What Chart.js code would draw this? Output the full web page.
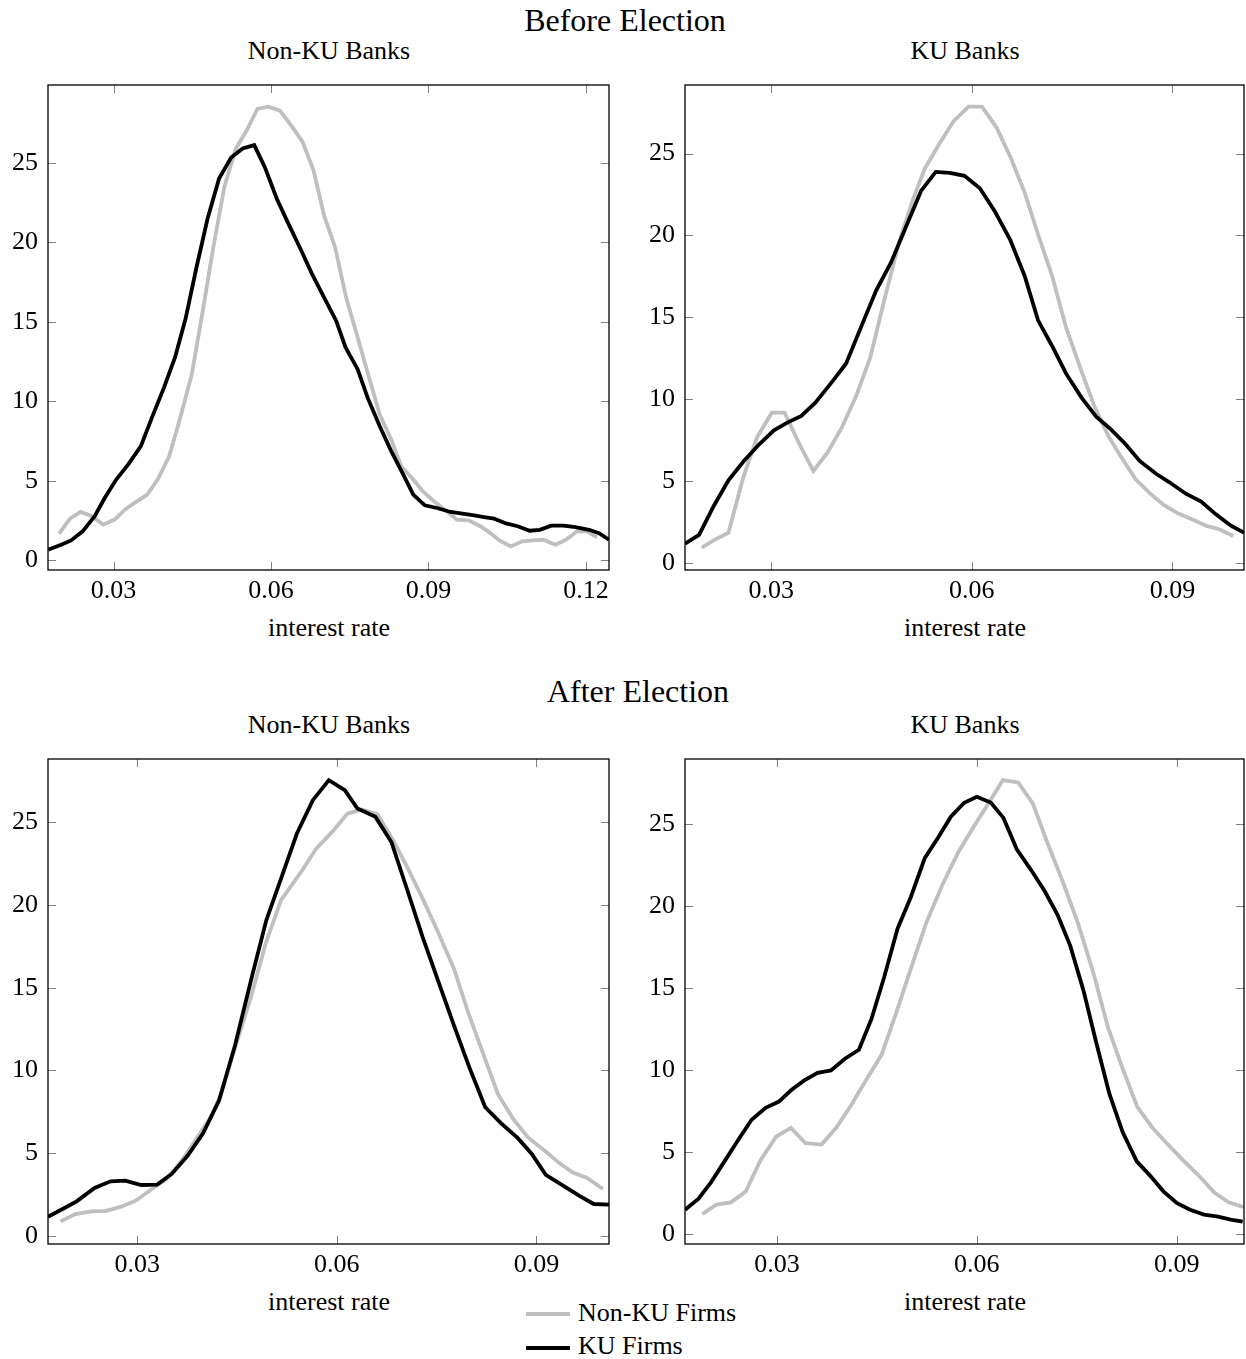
<!DOCTYPE html>
<html>
<head>
<meta charset="utf-8">
<script src="https://cdn.jsdelivr.net/npm/chart.js@4.4.1/dist/chart.umd.min.js"></script>
<style>
  body { margin: 0; background: #fff; font-family: "Liberation Serif", serif; }
  #page { position: relative; width: 1246px; height: 1359px; overflow: hidden; }
  .txt { position: absolute; white-space: nowrap; transform: translate(-50%, -50%); color: #000; }
  .box { position: absolute; }
  .swatch { position: absolute; height: 4px; width: 44px; }
</style>
</head>
<body>
<div id="page">
  <div class="txt" style="left:625px; top:20px; font-size:32px">Before Election</div>
  <div class="txt" style="left:329px; top:51px; font-size:26px">Non-KU Banks</div>
  <div class="txt" style="left:965px; top:51px; font-size:26px">KU Banks</div>
  <div class="txt" style="left:329px; top:628px; font-size:26px">interest rate</div>
  <div class="txt" style="left:965px; top:628px; font-size:26px">interest rate</div>

  <div class="txt" style="left:638px; top:691px; font-size:32px">After Election</div>
  <div class="txt" style="left:329px; top:725px; font-size:26px">Non-KU Banks</div>
  <div class="txt" style="left:965px; top:725px; font-size:26px">KU Banks</div>
  <div class="txt" style="left:329px; top:1302px; font-size:26px">interest rate</div>
  <div class="txt" style="left:965px; top:1302px; font-size:26px">interest rate</div>

  <div class="swatch" style="left:526px; top:1312px; background:#bfbfbf"></div>
  <div class="txt" style="left:578px; top:1313px; font-size:26px; transform:translate(0,-50%)">Non-KU Firms</div>
  <div class="swatch" style="left:526px; top:1346px; background:#000"></div>
  <div class="txt" style="left:578px; top:1346px; font-size:26px; transform:translate(0,-50%)">KU Firms</div>

  <div class="box" style="left:0px; top:75px; width:620px; height:535px"><canvas id="c1"></canvas></div>
  <div class="box" style="left:637px; top:75px; width:609px; height:535px"><canvas id="c2"></canvas></div>
  <div class="box" style="left:0px; top:749px; width:620px; height:535px"><canvas id="c3"></canvas></div>
  <div class="box" style="left:637px; top:749px; width:609px; height:535px"><canvas id="c4"></canvas></div>
</div>

<script>
// tick labels
const yTicks = [0, 5, 10, 15, 20, 25];
const xTicksWide = [0.03, 0.06, 0.09, 0.12];
const xTicks = [0.03, 0.06, 0.09];

// Before election, non-KU banks
const preNonKuBlackX = [0.0175, 0.0200, 0.0219, 0.0241, 0.0264, 0.0283, 0.0305, 0.0328, 0.0352, 0.0373, 0.0396, 0.0417, 0.0437, 0.0458, 0.0479, 0.0501, 0.0524, 0.0546, 0.0568, 0.0588, 0.0611, 0.0633, 0.0656, 0.0678, 0.0701, 0.0724, 0.0742, 0.0765, 0.0784, 0.0807, 0.0829, 0.0852, 0.0871, 0.0893, 0.0916, 0.0942, 0.0965, 0.0987, 0.1006, 0.1025, 0.1048, 0.1070, 0.1093, 0.1112, 0.1134, 0.1157, 0.1180, 0.1206, 0.1225, 0.1244];
const preNonKuBlackY = [0.67, 0.99, 1.26, 1.83, 2.78, 3.93, 5.09, 6.04, 7.19, 8.98, 10.87, 12.77, 15.18, 18.44, 21.49, 24.02, 25.34, 25.91, 26.12, 24.75, 22.75, 21.18, 19.60, 18.02, 16.55, 15.08, 13.40, 12.03, 10.24, 8.45, 6.88, 5.40, 4.14, 3.47, 3.30, 3.05, 2.94, 2.84, 2.73, 2.63, 2.33, 2.15, 1.87, 1.93, 2.19, 2.19, 2.10, 1.93, 1.72, 1.30];
const preNonKuGrayX = [0.0196, 0.0217, 0.0237, 0.0259, 0.0280, 0.0302, 0.0323, 0.0343, 0.0364, 0.0384, 0.0406, 0.0427, 0.0449, 0.0470, 0.0490, 0.0511, 0.0533, 0.0554, 0.0574, 0.0595, 0.0617, 0.0638, 0.0660, 0.0681, 0.0701, 0.0722, 0.0743, 0.0765, 0.0785, 0.0807, 0.0829, 0.0848, 0.0871, 0.0889, 0.0912, 0.0935, 0.0954, 0.0976, 0.0999, 0.1018, 0.1036, 0.1057, 0.1078, 0.1099, 0.1119, 0.1142, 0.1162, 0.1183, 0.1202, 0.1221];
const preNonKuGrayY = [1.68, 2.63, 3.05, 2.78, 2.25, 2.57, 3.24, 3.68, 4.14, 5.09, 6.56, 8.98, 11.71, 15.71, 19.70, 23.49, 25.91, 27.07, 28.39, 28.54, 28.29, 27.38, 26.33, 24.54, 21.70, 19.70, 16.55, 14.03, 11.71, 9.19, 7.61, 5.93, 5.09, 4.35, 3.68, 3.09, 2.57, 2.52, 2.15, 1.72, 1.24, 0.88, 1.20, 1.26, 1.30, 0.99, 1.30, 1.83, 1.83, 1.45];

// Before election, KU banks
const preKuBlackX = [0.0171, 0.0192, 0.0214, 0.0236, 0.0259, 0.0282, 0.0304, 0.0324, 0.0345, 0.0366, 0.0390, 0.0412, 0.0435, 0.0457, 0.0479, 0.0502, 0.0524, 0.0546, 0.0567, 0.0589, 0.0612, 0.0634, 0.0657, 0.0679, 0.0699, 0.0720, 0.0741, 0.0764, 0.0786, 0.0808, 0.0830, 0.0851, 0.0875, 0.0896, 0.0920, 0.0943, 0.0965, 0.0988, 0.1007];
const preKuBlackY = [1.18, 1.71, 3.48, 5.05, 6.23, 7.25, 8.10, 8.57, 8.98, 9.79, 11.01, 12.18, 14.48, 16.65, 18.34, 20.58, 22.72, 23.88, 23.82, 23.64, 22.88, 21.50, 19.77, 17.53, 14.82, 13.25, 11.56, 10.10, 8.94, 8.16, 7.25, 6.23, 5.46, 4.91, 4.23, 3.75, 2.97, 2.26, 1.85];
const preKuGrayX = [0.0196, 0.0217, 0.0236, 0.0258, 0.0279, 0.0301, 0.0320, 0.0341, 0.0363, 0.0384, 0.0405, 0.0427, 0.0448, 0.0470, 0.0491, 0.0512, 0.0530, 0.0551, 0.0573, 0.0595, 0.0615, 0.0637, 0.0658, 0.0679, 0.0699, 0.0720, 0.0741, 0.0762, 0.0784, 0.0804, 0.0824, 0.0845, 0.0866, 0.0887, 0.0908, 0.0929, 0.0951, 0.0970, 0.0991];
const preKuGrayY = [0.94, 1.45, 1.85, 5.21, 7.70, 9.18, 9.18, 7.35, 5.62, 6.74, 8.23, 10.20, 12.54, 16.21, 19.57, 22.21, 24.11, 25.57, 27.00, 27.87, 27.87, 26.59, 24.76, 22.62, 20.07, 17.53, 14.37, 11.93, 9.49, 7.76, 6.43, 5.11, 4.26, 3.54, 3.03, 2.67, 2.26, 2.06, 1.65];

// After election, non-KU banks
const postNonKuBlackX = [0.0166, 0.0188, 0.0209, 0.0236, 0.0260, 0.0282, 0.0306, 0.0330, 0.0352, 0.0376, 0.0399, 0.0423, 0.0447, 0.0471, 0.0494, 0.0518, 0.0540, 0.0564, 0.0588, 0.0612, 0.0631, 0.0658, 0.0682, 0.0706, 0.0729, 0.0752, 0.0776, 0.0799, 0.0823, 0.0847, 0.0872, 0.0893, 0.0914, 0.0940, 0.0964, 0.0986, 0.1009];
const postNonKuBlackY = [1.15, 1.62, 2.08, 2.89, 3.29, 3.33, 3.07, 3.09, 3.74, 4.85, 6.20, 8.18, 11.51, 15.45, 19.08, 21.81, 24.33, 26.35, 27.56, 26.95, 25.84, 25.34, 23.82, 20.90, 18.07, 15.45, 12.72, 10.20, 7.77, 6.80, 5.90, 4.95, 3.69, 3.03, 2.42, 1.92, 1.88];
const postNonKuGrayX = [0.0185, 0.0207, 0.0231, 0.0254, 0.0276, 0.0298, 0.0322, 0.0344, 0.0367, 0.0389, 0.0411, 0.0426, 0.0449, 0.0471, 0.0493, 0.0516, 0.0548, 0.0569, 0.0593, 0.0616, 0.0637, 0.0661, 0.0683, 0.0707, 0.0729, 0.0752, 0.0776, 0.0798, 0.0820, 0.0842, 0.0865, 0.0887, 0.0911, 0.0933, 0.0954, 0.0976, 0.1000];
const postNonKuGrayY = [0.87, 1.31, 1.47, 1.51, 1.76, 2.12, 2.83, 3.43, 4.54, 5.86, 7.21, 8.58, 11.61, 14.44, 17.67, 20.29, 22.11, 23.42, 24.43, 25.54, 25.78, 25.50, 24.03, 22.21, 20.39, 18.37, 16.15, 13.43, 11.00, 8.58, 7.07, 5.96, 5.19, 4.44, 3.84, 3.49, 2.83];

// After election, KU banks
const postKuBlackX = [0.0162, 0.0182, 0.0201, 0.0222, 0.0243, 0.0262, 0.0283, 0.0303, 0.0322, 0.0341, 0.0361, 0.0381, 0.0402, 0.0423, 0.0442, 0.0461, 0.0481, 0.0501, 0.0522, 0.0542, 0.0561, 0.0581, 0.0600, 0.0621, 0.0640, 0.0660, 0.0681, 0.0702, 0.0721, 0.0740, 0.0760, 0.0779, 0.0799, 0.0819, 0.0840, 0.0860, 0.0880, 0.0900, 0.0920, 0.0941, 0.0962, 0.0981, 0.0999];
const postKuBlackY = [1.48, 2.14, 3.15, 4.47, 5.80, 6.96, 7.69, 8.07, 8.79, 9.36, 9.82, 9.97, 10.68, 11.23, 13.12, 15.66, 18.61, 20.54, 22.92, 24.16, 25.43, 26.28, 26.65, 26.30, 25.36, 23.45, 22.21, 20.89, 19.47, 17.59, 14.85, 11.70, 8.54, 6.20, 4.43, 3.56, 2.60, 1.89, 1.48, 1.18, 1.06, 0.87, 0.75];
const postKuGrayX = [0.0188, 0.0209, 0.0231, 0.0253, 0.0275, 0.0299, 0.0321, 0.0343, 0.0367, 0.0389, 0.0412, 0.0434, 0.0457, 0.0479, 0.0501, 0.0524, 0.0548, 0.0572, 0.0596, 0.0618, 0.0639, 0.0662, 0.0684, 0.0706, 0.0730, 0.0752, 0.0775, 0.0797, 0.0819, 0.0841, 0.0863, 0.0886, 0.0909, 0.0933, 0.0956, 0.0978, 0.1001];
const postKuGrayY = [1.22, 1.79, 1.93, 2.58, 4.47, 5.94, 6.47, 5.53, 5.45, 6.47, 7.89, 9.40, 10.92, 13.47, 16.17, 18.96, 21.26, 23.25, 24.86, 26.28, 27.66, 27.52, 26.24, 23.84, 21.36, 18.92, 15.91, 12.57, 10.07, 7.73, 6.51, 5.49, 4.52, 3.56, 2.54, 1.93, 1.63];

const GRAY = '#bfbfbf';
const BLACK = '#000000';
const FONT = { family: '"Liberation Serif", serif', size: 26 };

function pts(xs, ys) {
  return xs.map((x, i) => ({ x: x, y: ys[i] }));
}

// pgfplots-like box with inward ticks on all four sides
const framePlugin = {
  id: 'frame',
  afterDatasetsDraw(chart) {
    const { ctx, chartArea: a, scales } = chart;
    const x = scales.x, y = scales.y;
    ctx.save();
    ctx.strokeStyle = '#808080';
    ctx.lineWidth = 1;
    ctx.beginPath();
    x.ticks.forEach(t => {
      const px = Math.round(x.getPixelForValue(t.value)) + 0.5;
      ctx.moveTo(px, a.bottom); ctx.lineTo(px, a.bottom - 8);
      ctx.moveTo(px, a.top); ctx.lineTo(px, a.top + 8);
    });
    y.ticks.forEach(t => {
      const py = Math.round(y.getPixelForValue(t.value)) + 0.5;
      ctx.moveTo(a.left, py); ctx.lineTo(a.left + 8, py);
      ctx.moveTo(a.right, py); ctx.lineTo(a.right - 8, py);
    });
    ctx.stroke();
    ctx.strokeStyle = '#000';
    ctx.lineWidth = 1.3;
    ctx.strokeRect(a.left, a.top, a.right - a.left, a.bottom - a.top);
    ctx.restore();
  }
};

function makeChart(id, black, gray, xr, yr, xt, padRight) {
  new Chart(document.getElementById(id), {
    type: 'scatter',
    data: {
      datasets: [
        { label: 'KU Firms', data: black, borderColor: BLACK, borderWidth: 3.8, showLine: true, pointRadius: 0, tension: 0, order: 0 },
        { label: 'Non-KU Firms', data: gray, borderColor: GRAY, borderWidth: 3.8, showLine: true, pointRadius: 0, tension: 0, order: 1 }
      ]
    },
    options: {
      responsive: true,
      maintainAspectRatio: false,
      animation: false,
      layout: { padding: { top: 10, right: padRight, left: 0, bottom: 0 } },
      plugins: { legend: { display: false }, tooltip: { enabled: false } },
      scales: {
        x: {
          type: 'linear',
          min: xr[0], max: xr[1],
          grid: { display: false, drawTicks: false },
          border: { display: false },
          afterBuildTicks: s => { s.ticks = xt.map(v => ({ value: v })); },
          afterFit: s => { s.height = 40; s.paddingLeft = 0; s.paddingRight = 0; },
          ticks: {
            autoSkip: false, maxRotation: 0, padding: 6, color: '#000', font: FONT,
            callback: v => v.toFixed(2)
          }
        },
        y: {
          type: 'linear',
          min: yr[0], max: yr[1],
          grid: { display: false, drawTicks: false },
          border: { display: false },
          afterBuildTicks: s => { s.ticks = yTicks.map(v => ({ value: v })); },
          afterFit: s => { s.width = 48; s.paddingTop = 0; s.paddingBottom = 0; },
          ticks: { autoSkip: false, padding: 10, color: '#000', font: FONT, callback: v => String(v) }
        }
      }
    },
    plugins: [framePlugin]
  });
}

makeChart('c1', pts(preNonKuBlackX, preNonKuBlackY), pts(preNonKuGrayX, preNonKuGrayY), [0.0175, 0.1244], [-0.6, 29.9], xTicksWide, 11);
makeChart('c2', pts(preKuBlackX, preKuBlackY), pts(preKuGrayX, preKuGrayY), [0.0171, 0.1007], [-0.43, 29.19], xTicks, 2);
makeChart('c3', pts(postNonKuBlackX, postNonKuBlackY), pts(postNonKuGrayX, postNonKuGrayY), [0.0166, 0.1009], [-0.5, 28.84], xTicks, 11);
makeChart('c4', pts(postKuBlackX, postKuBlackY), pts(postKuGrayX, postKuGrayY), [0.0162, 0.1001], [-0.61, 28.95], xTicks, 2);
</script>
</body>
</html>
